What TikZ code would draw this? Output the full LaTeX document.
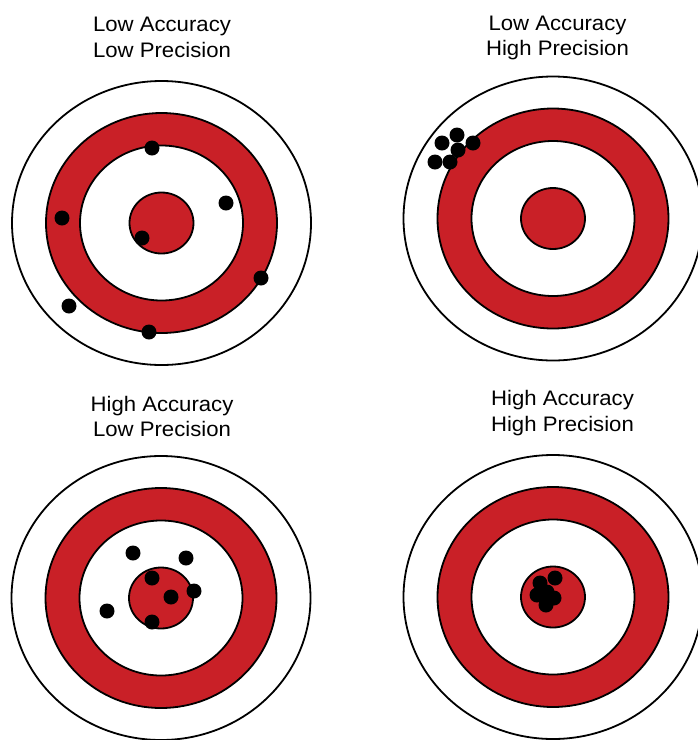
\documentclass[tikz,border=0pt]{standalone}
\usepackage{fontspec}
\setmainfont{Liberation Sans}
\usepackage{tikz}
\definecolor{targetred}{RGB}{201,32,39}

\begin{document}
\begin{tikzpicture}[x=1pt,y=-1pt,
  ring/.style={line width=1.8pt, draw=black},
  hit/.style={fill=black},
  title/.style={anchor=base, inner sep=0pt, font=\fontsize{21}{25.6}\selectfont}]
\useasboundingbox (0,0) rectangle (698,740);
% titles
\node[title] (lalp1) at (162,31.7) {\scalebox{1.055}[1]{Low Accuracy}};
\node[title] (lalp2) at (162,57.3) {\scalebox{1.055}[1]{Low Precision}};
\node[title] (lahp1) at (557.5,30) {\scalebox{1.055}[1]{Low Accuracy}};
\node[title] (lahp2) at (557.5,55.5) {\scalebox{1.055}[1]{High Precision}};
\node[title] (halp1) at (162,411.5) {\scalebox{1.055}[1]{High Accuracy}};
\node[title] (halp2) at (162,436) {\scalebox{1.055}[1]{Low Precision}};
\node[title] (hahp1) at (562.5,405.5) {\scalebox{1.055}[1]{High Accuracy}};
\node[title] (hahp2) at (562.5,431) {\scalebox{1.055}[1]{High Precision}};
% target, low accuracy low precision
\draw[ring, fill=white] (161.5,223) ellipse [x radius=149.5, y radius=142];
\draw[ring, fill=targetred] (161.5,223) ellipse [x radius=115.5, y radius=110];
\draw[ring, fill=white] (161.5,223) ellipse [x radius=81.5, y radius=77.5];
\draw[ring, fill=targetred] (161.5,223) ellipse [x radius=32, y radius=30.5];
\fill[hit] (152,148) circle (7.5);
\fill[hit] (226,203) circle (7.5);
\fill[hit] (62,218) circle (7.5);
\fill[hit] (142,238) circle (7.5);
\fill[hit] (261,278) circle (7.5);
\fill[hit] (69,306) circle (7.5);
\fill[hit] (149,332) circle (7.5);
% target, low accuracy high precision
\draw[ring, fill=white] (553,218.5) ellipse [x radius=149.5, y radius=142];
\draw[ring, fill=targetred] (553,218.5) ellipse [x radius=115.5, y radius=110];
\draw[ring, fill=white] (553,218.5) ellipse [x radius=81.5, y radius=77.5];
\draw[ring, fill=targetred] (553,218.5) ellipse [x radius=32, y radius=30.5];
\fill[hit] (442,143) circle (7.5);
\fill[hit] (457,135) circle (7.5);
\fill[hit] (473,143) circle (7.5);
\fill[hit] (458,150) circle (7.5);
\fill[hit] (435,162) circle (7.5);
\fill[hit] (450,162) circle (7.5);
% target, high accuracy low precision
\draw[ring, fill=white] (161,598) ellipse [x radius=149.5, y radius=142];
\draw[ring, fill=targetred] (161,598) ellipse [x radius=115.5, y radius=110];
\draw[ring, fill=white] (161,598) ellipse [x radius=81.5, y radius=77.5];
\draw[ring, fill=targetred] (161,598) ellipse [x radius=32, y radius=30.5];
\fill[hit] (133,553) circle (7.5);
\fill[hit] (186,558) circle (7.5);
\fill[hit] (152,578) circle (7.5);
\fill[hit] (194,591) circle (7.5);
\fill[hit] (171,597) circle (7.5);
\fill[hit] (107,611) circle (7.5);
\fill[hit] (152,622) circle (7.5);
% target, high accuracy high precision
\draw[ring, fill=white] (553,597) ellipse [x radius=149.5, y radius=142];
\draw[ring, fill=targetred] (553,597) ellipse [x radius=115.5, y radius=110];
\draw[ring, fill=white] (553,597) ellipse [x radius=81.5, y radius=77.5];
\draw[ring, fill=targetred] (553,597) ellipse [x radius=32, y radius=30.5];
\fill[hit] (555,578) circle (7.5);
\fill[hit] (540,583) circle (7.5);
\fill[hit] (537,595) circle (7.5);
\fill[hit] (547,592) circle (7.5);
\fill[hit] (554,598) circle (7.5);
\fill[hit] (546,605) circle (7.5);
\end{tikzpicture}
\end{document}
